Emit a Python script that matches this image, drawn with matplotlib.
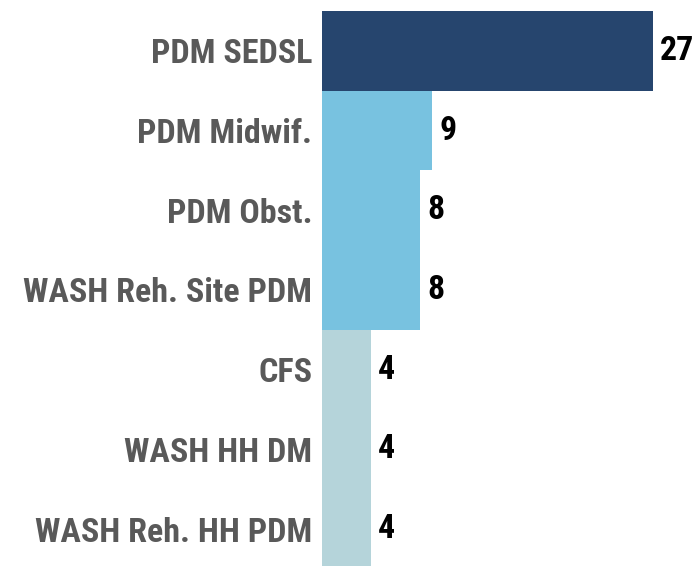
import matplotlib
matplotlib.use('Agg')
import matplotlib.pyplot as plt

# データ
categories = ['PDM SEDSL', 'PDM Midwif.', 'PDM Obst.', 'WASH Reh. Site PDM',
              'CFS', 'WASH HH DM', 'WASH Reh. HH PDM']
values = [27, 9, 8, 8, 4, 4, 4]
colors = ['#26456E', '#78C2E0', '#78C2E0', '#78C2E0',
          '#B5D4DA', '#B5D4DA', '#B5D4DA']


def main():
    plt.rcParams['font.family'] = ['Roboto Condensed', 'DejaVu Sans']
    fig = plt.figure(figsize=(6.94, 5.66), dpi=100)
    ax = fig.add_axes([322 / 694, -3 / 566, 331 / 694, 558 / 566])

    y = range(len(categories))
    ax.barh(y, values, height=1.0, color=colors, edgecolor='none')
    ax.set_xlim(0, 27)
    ax.set_ylim(len(categories) - 0.5, -0.5)

    ax.set_yticks(list(y))
    ax.set_yticklabels(categories, fontsize=24.5, fontweight='bold', color='#595959')
    ax.tick_params(axis='y', length=0, pad=7)
    ax.set_xticks([])
    for s in ax.spines.values():
        s.set_visible(False)

    # 値ラベル
    for i, v in enumerate(values):
        ax.annotate(str(v), (v, i), xytext=(7, 0), textcoords='offset pixels',
                    va='center', ha='left', fontsize=24.5, fontweight='bold',
                    color='black', annotation_clip=False)

    fig.savefig('out.png', dpi=100)


if __name__ == '__main__':
    main()
